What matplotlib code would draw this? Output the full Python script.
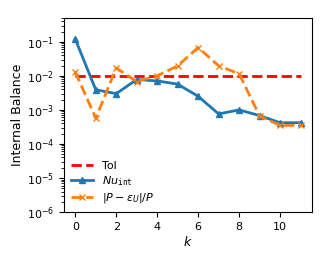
import numpy as np
import matplotlib
matplotlib.use("Agg")
import matplotlib.pyplot as plt

plt.rcParams["font.size"] = 8

k = list(range(12))
nu_int = [0.12, 0.0039, 0.0030, 0.0078, 0.0071, 0.0057, 0.0025,
          0.00076, 0.0010, 0.00068, 0.00042, 0.00042]
p_err = [0.013, 0.00057, 0.017, 0.0068, 0.010, 0.0197, 0.068,
         0.0197, 0.0115, 0.00066, 0.00035, 0.00035]
tol = 1e-2

fig = plt.figure(figsize=(3.3, 2.65), dpi=100)
ax = fig.add_axes([0.194, 0.2, 0.751, 0.732])

ax.plot([k[0], k[-1]], [tol, tol], "--", color="red", lw=2, label="Tol")
ax.plot(k, nu_int, "-^", color="tab:blue", lw=2, ms=4,
        label=r"$Nu_{\mathtt{int}}$")
ax.plot(k, p_err, "--x", color="tab:orange", lw=2, ms=4,
        label=r"$|P-\varepsilon_U|/P$")

ax.set_yscale("log")
ax.set_ylim(1e-6, 0.5)
ax.set_xticks([0, 2, 4, 6, 8, 10])
ax.set_xlabel("$k$", fontsize=9, labelpad=2)
ax.set_ylabel("Internal Balance", fontsize=9, labelpad=2)
ax.legend(loc="lower left", frameon=False, labelspacing=0.3,
          borderaxespad=0.2)

fig.savefig("out.png", dpi=100)
